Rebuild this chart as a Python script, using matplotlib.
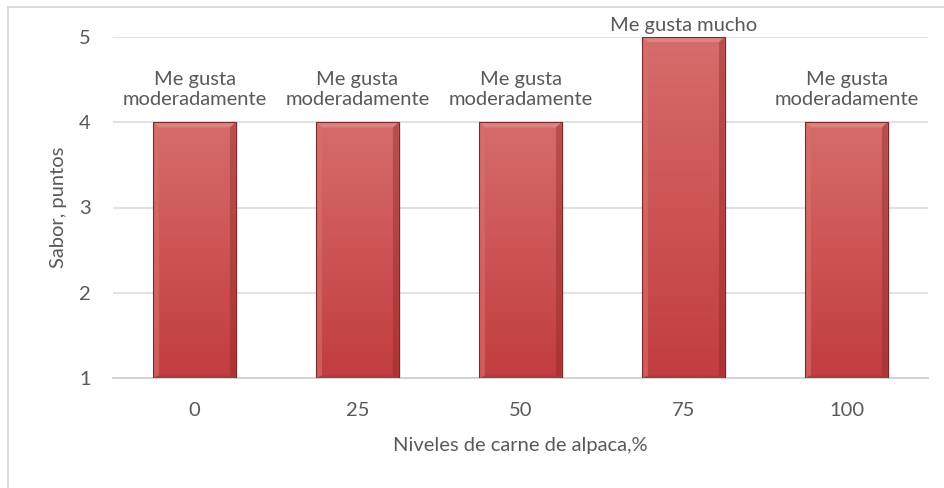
import matplotlib
matplotlib.use("Agg")
import matplotlib.pyplot as plt
import numpy as np
from matplotlib.lines import Line2D
from matplotlib.colors import LinearSegmentedColormap

categories = ["0", "25", "50", "75", "100"]
values = [4, 4, 4, 5, 4]
labels = ["Me gusta\nmoderadamente", "Me gusta\nmoderadamente", "Me gusta\nmoderadamente",
          "Me gusta mucho", "Me gusta\nmoderadamente"]
yticks = [1, 2, 3, 4, 5]

plt.rcParams['font.family'] = ['Lato', 'DejaVu Sans']
txt = '#595959'
fs = 14.5

fig = plt.figure(figsize=(9.44, 4.88), dpi=100)
ax = fig.add_axes([113/944, 1-378/488, 815/944, (378-37)/488])

x = np.arange(len(categories))
base = 1
bars = ax.bar(x, [v - base for v in values], bottom=base, width=0.505,
              color='none', edgecolor='none', zorder=3)

cmap = LinearSegmentedColormap.from_list('r', ['#C23D3F', '#CD5455', '#D56C6B'])
grad = np.linspace(0, 1, 256).reshape(-1, 1)
for b in bars:
    x0, y0 = b.get_x(), b.get_y()
    w, h = b.get_width(), b.get_height()
    im = ax.imshow(grad, extent=[x0, x0 + w, y0, y0 + h], origin='lower',
                   cmap=cmap, aspect='auto', zorder=3)
    im.set_clip_path(b)
    ax.add_patch(plt.Rectangle((x0 + w, y0), 0.012, h, color='#000000', alpha=0.08,
                               zorder=2, lw=0))
    bw = 0.035
    bh = 0.06
    ax.fill([x0, x0 + w, x0 + w - bw, x0 + bw], [y0 + h, y0 + h, y0 + h - bh, y0 + h - bh],
            color='#E08A88', alpha=0.8, zorder=4, lw=0)
    ax.fill([x0, x0 + bw, x0 + bw, x0], [y0, y0 + bh*0.5, y0 + h - bh, y0 + h],
            color='#D8706F', alpha=0.6, zorder=4, lw=0)
    ax.fill([x0 + w, x0 + w - bw, x0 + w - bw, x0 + w], [y0, y0 + bh*0.5, y0 + h - bh, y0 + h],
            color='#8E2426', alpha=0.4, zorder=4, lw=0)
    ax.fill([x0, x0 + w, x0 + w - bw, x0 + bw], [y0, y0, y0 + bh*0.5, y0 + bh*0.5],
            color='#9A2C2E', alpha=0.35, zorder=4, lw=0)
    ax.add_patch(plt.Rectangle((x0, y0), w, h, fill=False, edgecolor='#7A2A2A',
                               lw=0.8, zorder=5))

vmax = max(values)
for xi, v, lab in zip(x, values, labels):
    off = 2 if v == vmax else 10
    ax.annotate(lab, (xi, v), xytext=(0, off), textcoords='offset points',
                ha='center', va='bottom', fontsize=fs, color=txt, linespacing=1.25,
                annotation_clip=False)

ax.set_xlim(-0.5, len(categories) - 0.5)
ax.set_ylim(1, 5)
ax.set_yticks(yticks)
ax.set_xticks(x)
ax.set_xticklabels(categories)
ax.tick_params(axis='both', length=0, labelsize=fs, labelcolor=txt)
ax.tick_params(axis='y', pad=16)
ax.tick_params(axis='x', pad=17.5)
ax.grid(axis='y', color='#D9D9D9', lw=1.1, zorder=0)
ax.set_axisbelow(True)
for s in ['top', 'right', 'left']:
    ax.spines[s].set_visible(False)
ax.spines['bottom'].set_color('#D0D0D0')
ax.spines['bottom'].set_linewidth(1.3)

ax.set_ylabel('Sabor, puntos', fontsize=fs, color=txt, labelpad=9)
ax.set_xlabel('Niveles de carne de alpaca,%', fontsize=fs, color=txt, labelpad=12.5)

fig.add_artist(Line2D([8/944, 1], [1-7/488, 1-7/488], color='#D9D9D9', lw=1.3))
fig.add_artist(Line2D([8/944, 8/944], [0, 1-7/488], color='#D9D9D9', lw=1.3))

fig.savefig('out.png', dpi=100)
